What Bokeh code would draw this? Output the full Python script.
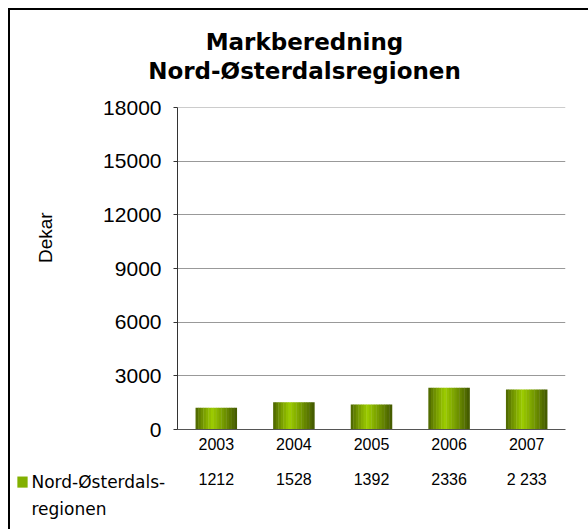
from bokeh.plotting import figure
from bokeh.models import (ColumnDataSource, Label, CategoricalAxis, FactorRange,
                          FixedTicker, Range1d)
from bokeh.transform import dodge
from bokeh.embed import file_html
from bokeh.resources import INLINE

# ---- data ----
years = ["2003", "2004", "2005", "2006", "2007"]
values = [1212, 1528, 1392, 2336, 2233]
value_labels = ["1212", "1528", "1392", "2336", "2 233"]
y_ticks = [0, 3000, 6000, 9000, 12000, 15000, 18000]
series_name = ["Nord-Østerdals-", "regionen"]
title_lines = ["Markberedning", "Nord-Østerdalsregionen"]
y_label = "Dekar"

FONT = "Liberation Sans"
TFONT = "DejaVu Sans"

src = ColumnDataSource(dict(year=years, value=values))

p = figure(x_range=FactorRange(factors=years), y_range=Range1d(0, 18000.01),
           frame_width=388, frame_height=322,
           min_border_left=167, min_border_right=23,
           min_border_top=97, min_border_bottom=100,
           output_backend="svg", toolbar_location=None)
p.styles = {"margin-left": "8px", "margin-top": "8px",
            "border-left": "2px solid #000", "border-top": "2px solid #000"}
p.outline_line_color = None
p.background_fill_color = "white"
p.border_fill_color = "white"

# gradient bars built from narrow strips
n = 16
bar_w = 0.53
strip = bar_w / n
dark_l = (0x48, 0x5e, 0x00)
dark_r = (0x40, 0x55, 0x00)
bright = (0x9c, 0xcc, 0x00)
peak = 0.40
for i in range(n):
    t = (i + 0.5) / n
    if t <= peak:
        f = (t / peak) ** 0.8
        a, b = dark_l, bright
    else:
        f = ((1 - t) / (1 - peak)) ** 0.9
        a, b = dark_r, bright
    c = tuple(int(a[k] + (b[k] - a[k]) * f) for k in range(3))
    col = "#%02x%02x%02x" % c
    off = -bar_w / 2 + (i + 0.5) * strip
    p.vbar(x=dodge("year", off, range=p.x_range), top="value", width=strip * 1.15,
           source=src, fill_color=col, line_color=None)

# axes
p.yaxis.ticker = FixedTicker(ticks=y_ticks)
p.yaxis.major_label_text_font = FONT
p.yaxis.major_label_text_font_size = "21px"
p.yaxis.major_label_text_color = "#000"
p.yaxis.major_tick_out = 4
p.yaxis.major_tick_in = 0
p.yaxis.minor_tick_line_color = None
p.yaxis.axis_line_color = "#333"
p.yaxis.major_tick_line_color = "#333"
p.yaxis.major_label_standoff = 12

p.xaxis.major_label_text_font = FONT
p.xaxis.major_label_text_font_size = "16px"
p.xaxis.major_label_text_color = "#000"
p.xaxis.major_tick_line_color = None
p.xaxis.axis_line_color = "#555"
p.xaxis.major_label_standoff = 2

# data-table row: a second category axis on a parallel factor range of the value labels
p.extra_x_ranges = {"vals": FactorRange(factors=value_labels)}
vaxis = CategoricalAxis(x_range_name="vals",
                        axis_line_color=None, major_tick_line_color=None,
                        minor_tick_line_color=None,
                        major_label_text_font=FONT,
                        major_label_text_font_size="16px",
                        major_label_text_color="#000",
                        major_label_standoff=12)
p.below = [p.below[0], vaxis] + list(p.below[1:])

p.xgrid.grid_line_color = None
p.ygrid.grid_line_color = "#999"
p.ygrid.grid_line_width = 1

# helpers: px -> data coordinates (frame: left 177, bottom 428.5)
XPX = 77.6
YPX = 18000 / 321.5

def dx(px):
    return (px - 177) / XPX

def dy(py):
    return (428.5 - py) * YPX

# title (in side panel so it is not clipped to the frame)
for txt, yy in zip(title_lines, [42, 71]):
    p.add_layout(Label(x=dx(304), y=dy(yy), text=txt,
                       text_font=TFONT, text_font_style="bold", text_font_size="23px",
                       text_align="center", text_baseline="middle", text_color="#000"),
                 "above")

# y axis label
p.add_layout(Label(x=dx(45), y=dy(237), text=y_label,
                   angle=1.5708, text_font=FONT, text_font_size="19px",
                   text_align="center", text_baseline="middle", text_color="#000"),
             "left")

# legend key (coloured box) + series name
p.add_layout(Label(x=dx(22), y=dy(481), text=" ", text_font_size="1px",
                   text_align="center", text_baseline="middle",
                   background_fill_color="#82b000", padding=5),
             "right")
for txt, yy, side in zip(series_name, [481, 508], ["above", "below"]):
    p.add_layout(Label(x=dx(31), y=dy(yy), text=txt,
                       text_font=TFONT, text_font_size="17px", text_align="left",
                       text_baseline="middle", text_color="#000"),
                 side)

open("out.html", "w").write(file_html(p, INLINE))
